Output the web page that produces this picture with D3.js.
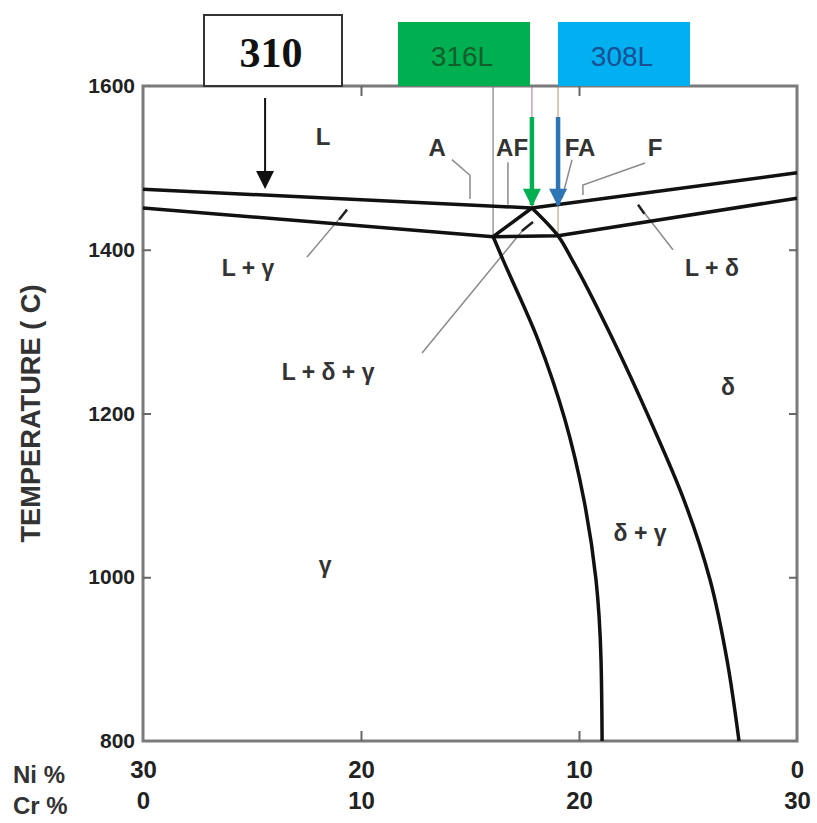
<!DOCTYPE html>
<html>
<head>
<meta charset="utf-8">
<script src="https://cdn.jsdelivr.net/npm/d3@7"></script>
<style>
  body { margin: 0; background: #fff; }
  .lbl { font-family: "Liberation Sans", Arial, sans-serif; font-weight: bold; fill: #333; }
  .axis text { font-family: "Liberation Sans", Arial, sans-serif; font-weight: bold; font-size: 21px; fill: #222; }
  .axis.bottom text { font-size: 24px; }
</style>
</head>
<body>
<div id="chart"></div>
<script>
// Fe-Cr-Ni pseudo-binary section (Ni % / Cr % vs temperature)

// axis ticks
var niTicks = [30, 20, 10, 0];
var tempTicks = [800, 1000, 1200, 1400, 1600];

// phase boundaries  [Ni %, temperature C]
var liquidus = [[30, 1474], [12.16, 1451], [0, 1494]];
var solidus = [[30, 1451], [13.94, 1416], [10.96, 1417], [0, 1463]];
var triangleEdge = [[12.16, 1451], [13.94, 1416]];
var gammaSolvus = [[13.94, 1416], [13.49, 1388], [11.88, 1290], [10.64, 1192], [9.77, 1094], [9.22, 997], [8.99, 899], [8.94, 800]];
var deltaSolvus = [[12.16, 1451], [10.96, 1417], [10.32, 1388], [8.44, 1290], [6.74, 1192], [5.18, 1094], [3.99, 997], [3.21, 899], [2.66, 800]];

// solidification mode boundaries (thin guides from the top)
var modeNi = [13.94, 12.16, 10.96];
var modeTop = [1416, 1451, 1417];

// region labels
var regionText = ["L", "A", "AF", "FA", "F", "L + γ", "L + δ", "L + δ + γ", "δ", "δ + γ", "γ"];
var regionNi = [21.74, 16.51, 13.07, 9.95, 6.51, 25.18, 3.9, 21.51, 3.17, 7.2, 21.65];
var regionT = [1538, 1525, 1525, 1525, 1525, 1378, 1378, 1251, 1232, 1054, 1015];

// leader lines for labels
var leaders = [
  [[15.83, 1510], [15.0, 1491], [15.0, 1462]],
  [[13.26, 1507], [13.26, 1455]],
  [[10.32, 1510], [10.78, 1463]],
  [[6.97, 1506], [9.82, 1479], [9.82, 1467]],
  [[22.48, 1391], [20.64, 1449]],
  [[5.69, 1400], [7.29, 1455]],
  [[17.2, 1274], [12.48, 1427], [12.11, 1434]]
];
// darker short ends of the leaders where they touch a boundary
var leaderEnds = [
  [[21.0, 1437], [20.64, 1449]],
  [[7.0, 1444], [7.29, 1455]],
  [[12.62, 1423], [12.11, 1434]]
];

// alloy grades
var grades = ["310", "316L", "308L"];
var gradeNi = [24.4, 12.16, 10.96];

var W = 817, H = 823;
var x = d3.scaleLinear().domain([30, 0]).range([143, 797]);
var y = d3.scaleLinear().domain([800, 1600]).range([741, 86]);

var svg = d3.select("#chart").append("svg")
    .attr("width", W)
    .attr("height", H);

var defs = svg.append("defs");
function marker(id, color, w, h) {
    defs.append("marker")
        .attr("id", id)
        .attr("viewBox", "0 0 10 10")
        .attr("refX", 9).attr("refY", 5)
        .attr("markerUnits", "userSpaceOnUse")
        .attr("markerWidth", w).attr("markerHeight", h)
        .attr("orient", "auto")
      .append("path")
        .attr("d", "M0,0L10,5L0,10Z")
        .attr("fill", color);
}
marker("ah-black", "#111", 24, 18);
marker("ah-green", "#00b050", 24, 18);
marker("ah-blue", "#2e75b6", 24, 18);

var line = d3.line()
    .x(function(d) { return x(d[0]); })
    .y(function(d) { return y(d[1]); });
var curve = d3.line()
    .x(function(d) { return x(d[0]); })
    .y(function(d) { return y(d[1]); })
    .curve(d3.curveMonotoneY);

// thin guide lines for solidification modes
var guideCol = ["#9a9a9a", "#c7a3ab", "#c9b79c"];
modeNi.forEach(function(n, i) {
    svg.append("line")
        .attr("x1", x(n)).attr("x2", x(n))
        .attr("y1", y(1600)).attr("y2", y(modeTop[i]))
        .attr("stroke", guideCol[i])
        .attr("stroke-width", 1.5);
});

// leaders
leaders.forEach(function(l) {
    svg.append("path")
        .attr("d", line(l))
        .attr("fill", "none")
        .attr("stroke", "#8a8a8a")
        .attr("stroke-width", 1.5);
});
leaderEnds.forEach(function(l) {
    svg.append("path")
        .attr("d", line(l))
        .attr("fill", "none")
        .attr("stroke", "#222")
        .attr("stroke-width", 2.5);
});

// frame
svg.append("rect")
    .attr("x", x(30)).attr("y", y(1600))
    .attr("width", x(0) - x(30)).attr("height", y(800) - y(1600))
    .attr("fill", "none")
    .attr("stroke", "#7a7a7a")
    .attr("stroke-width", 3);

// axes
var yAxis = svg.append("g")
    .attr("class", "axis")
    .attr("transform", "translate(" + x(30) + ",0)")
    .call(d3.axisLeft(y).tickValues(tempTicks).tickSize(-8).tickPadding(8).tickFormat(d3.format("d")));
yAxis.select(".domain").remove();
yAxis.selectAll(".tick line").attr("stroke", "#666").attr("stroke-width", 2)
    .filter(function(d) { return d == 800 || d == 1600; }).remove();

var yAxisR = svg.append("g")
    .attr("transform", "translate(" + x(0) + ",0)")
    .call(d3.axisRight(y).tickValues([1000, 1200, 1400]).tickSize(-8).tickFormat(""));
yAxisR.select(".domain").remove();
yAxisR.selectAll(".tick line").attr("stroke", "#666").attr("stroke-width", 2);

var xTop = svg.append("g")
    .attr("transform", "translate(0," + y(1600) + ")")
    .call(d3.axisTop(x).tickValues([20, 10]).tickSize(-10).tickFormat(""));
xTop.select(".domain").remove();
xTop.selectAll(".tick line").attr("stroke", "#666").attr("stroke-width", 2);

var xAxis = svg.append("g")
    .attr("class", "axis bottom")
    .attr("transform", "translate(0," + y(800) + ")")
    .call(d3.axisBottom(x).tickValues(niTicks).tickSize(-10).tickPadding(20).tickFormat(d3.format("d")));
xAxis.select(".domain").remove();
xAxis.selectAll(".tick line").attr("stroke", "#666").attr("stroke-width", 2)
    .filter(function(d) { return d == 30 || d == 0; }).remove();

var crAxis = svg.append("g")
    .attr("class", "axis bottom")
    .attr("transform", "translate(0," + y(800) + ")")
    .call(d3.axisBottom(x).tickValues(niTicks).tickSize(0).tickPadding(51)
        .tickFormat(function(d) { return 30 - d; }));
crAxis.select(".domain").remove();

svg.append("text").attr("class", "lbl")
    .attr("x", 13).attr("y", 783)
    .style("font-size", "24px")
    .text("Ni %");
svg.append("text").attr("class", "lbl")
    .attr("x", 13).attr("y", 814)
    .style("font-size", "24px")
    .text("Cr %");

svg.append("text").attr("class", "lbl")
    .attr("transform", "translate(40," + y(1200) + ") rotate(-90)")
    .attr("text-anchor", "middle")
    .attr("textLength", 258)
    .attr("lengthAdjust", "spacingAndGlyphs")
    .style("font-size", "27px")
    .text("TEMPERATURE ( C)");

// phase boundaries
[liquidus, solidus, triangleEdge].forEach(function(d) {
    svg.append("path")
        .attr("d", line(d))
        .attr("fill", "none")
        .attr("stroke", "#111")
        .attr("stroke-width", 3.5)
        .attr("stroke-linejoin", "round");
});
[gammaSolvus, deltaSolvus].forEach(function(d) {
    svg.append("path")
        .attr("d", curve(d))
        .attr("fill", "none")
        .attr("stroke", "#111")
        .attr("stroke-width", 3.5);
});

// region labels
regionText.forEach(function(t, i) {
    svg.append("text").attr("class", "lbl")
        .attr("x", x(regionNi[i]))
        .attr("y", y(regionT[i]))
        .attr("text-anchor", "middle")
        .attr("dominant-baseline", "central")
        .style("font-size", i < 5 ? "24px" : "23px")
        .text(t);
});

// grade boxes
svg.append("rect")
    .attr("x", 204).attr("y", 15).attr("width", 138).attr("height", 71)
    .attr("fill", "#fff").attr("stroke", "#333").attr("stroke-width", 2);
svg.append("text")
    .attr("x", 271).attr("y", 53)
    .attr("text-anchor", "middle").attr("dominant-baseline", "central")
    .style("font-family", "'Liberation Serif', 'Times New Roman', serif")
    .style("font-weight", "bold").style("font-size", "42px")
    .attr("fill", "#111")
    .text(grades[0]);

svg.append("rect")
    .attr("x", 398).attr("y", 22).attr("width", 132).attr("height", 64)
    .attr("fill", "#00b050");
svg.append("text")
    .attr("x", 462).attr("y", 56)
    .attr("text-anchor", "middle").attr("dominant-baseline", "central")
    .style("font-family", "'Liberation Sans Narrow', 'Liberation Sans', Arial, sans-serif")
    .style("font-size", "28px")
    .attr("fill", "#135f2c")
    .text(grades[1]);

svg.append("rect")
    .attr("x", 558).attr("y", 22).attr("width", 132).attr("height", 64)
    .attr("fill", "#00b0f0");
svg.append("text")
    .attr("x", 622).attr("y", 56)
    .attr("text-anchor", "middle").attr("dominant-baseline", "central")
    .style("font-family", "'Liberation Sans Narrow', 'Liberation Sans', Arial, sans-serif")
    .style("font-size", "28px")
    .attr("fill", "#1a4f92")
    .text(grades[2]);

// grade arrows
svg.append("line")
    .attr("x1", x(gradeNi[0])).attr("x2", x(gradeNi[0]))
    .attr("y1", 98).attr("y2", y(1474) - 2)
    .attr("stroke", "#111").attr("stroke-width", 2)
    .attr("marker-end", "url(#ah-black)");
svg.append("line")
    .attr("x1", x(gradeNi[1])).attr("x2", x(gradeNi[1]))
    .attr("y1", 117).attr("y2", y(1451) - 3)
    .attr("stroke", "#00b050").attr("stroke-width", 4.5)
    .attr("marker-end", "url(#ah-green)");
svg.append("line")
    .attr("x1", x(gradeNi[2])).attr("x2", x(gradeNi[2]))
    .attr("y1", 117).attr("y2", y(1451) - 3)
    .attr("stroke", "#2e75b6").attr("stroke-width", 4.5)
    .attr("marker-end", "url(#ah-blue)");
</script>
</body>
</html>
